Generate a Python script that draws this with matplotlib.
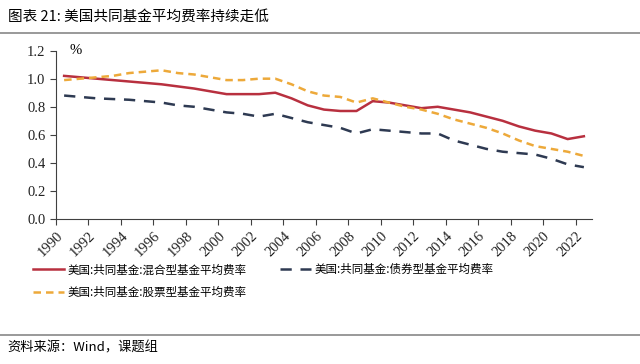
import matplotlib.pyplot as plt
import numpy as np

plt.rcParams['font.family'] = ['Noto Sans CJK SC', 'DejaVu Sans']

years = list(range(1990, 2023))
hunhe = [1.02, 1.01, 1.00, 0.99, 0.98, 0.97, 0.96, 0.945, 0.93, 0.91, 0.89, 0.89, 0.89, 0.90,
         0.86, 0.81, 0.78, 0.77, 0.77, 0.84, 0.83, 0.81, 0.79, 0.80, 0.78, 0.76, 0.73, 0.70,
         0.66, 0.63, 0.61, 0.57, 0.59]
zhaiquan = [0.88, 0.87, 0.86, 0.855, 0.85, 0.84, 0.83, 0.81, 0.80, 0.78, 0.76, 0.75, 0.73, 0.75,
            0.72, 0.69, 0.67, 0.65, 0.61, 0.64, 0.63, 0.62, 0.61, 0.61, 0.56, 0.53, 0.50, 0.48,
            0.47, 0.46, 0.43, 0.39, 0.37]
gupiao = [0.99, 1.00, 1.01, 1.02, 1.04, 1.05, 1.06, 1.04, 1.03, 1.01, 0.99, 0.99, 1.00, 1.00,
          0.96, 0.91, 0.88, 0.87, 0.83, 0.86, 0.83, 0.80, 0.78, 0.75, 0.71, 0.68, 0.65, 0.61,
          0.56, 0.52, 0.50, 0.48, 0.45]
labels = ['美国:共同基金:混合型基金平均费率', '美国:共同基金:债券型基金平均费率',
          '美国:共同基金:股票型基金平均费率']

fig = plt.figure(figsize=(6.4, 3.64), dpi=100)
ax = fig.add_axes([0.0875, 0.398, 0.8375, 0.463])

l1, = ax.plot(years, hunhe, color='#B8303F', lw=1.8, label=labels[0])
l2, = ax.plot(years, zhaiquan, color='#2E3A52', lw=1.8, ls=(0, (4.5, 3.5)), label=labels[1])
l3, = ax.plot(years, gupiao, color='#EDA93A', lw=1.8, ls=(0, (3, 2)), label=labels[2])

ax.set_xlim(1989.5, 2022.5)
ax.set_ylim(0, 1.2)
tick_years = years[::2]
ax.set_xticks([y - 0.5 for y in tick_years])
ax.set_xticklabels([str(y) for y in tick_years], rotation=45, ha='right', va='top',
                   rotation_mode='anchor', family='Liberation Serif', fontsize=10.5)
ax.set_yticks(np.arange(0, 1.21, 0.2))
ax.set_yticklabels(['%.1f' % v for v in np.arange(0, 1.21, 0.2)], family='Liberation Serif', fontsize=10.5)
for s in ['top', 'right']:
    ax.spines[s].set_visible(False)
for s in ['left', 'bottom']:
    ax.spines[s].set_color('#404040')
ax.tick_params(direction='out', length=4, color='#404040', labelcolor='#222222')
ax.text(0.025, 1.0, '%', transform=ax.transAxes, fontsize=10.5, va='center', family='Liberation Serif')

# legend order so that row 1 = mixed, bond; row 2 = equity
fig.legend(handles=[l1, l3, l2], loc='upper left', bbox_to_anchor=(0.035, 0.305), ncol=2,
           frameon=False, fontsize=8.3, handlelength=2.7, handletextpad=0.3, columnspacing=2.9,
           labelspacing=0.85)

fig.text(0.012, 0.955, '图表 21: 美国共同基金平均费率持续走低', fontsize=10.5, va='center')
fig.add_artist(plt.Line2D([0, 1], [0.908, 0.908], color='#888888', lw=1.2))
fig.add_artist(plt.Line2D([0, 1], [0.08, 0.08], color='#888888', lw=1.2))
fig.text(0.012, 0.043, '资料来源：Wind，课题组', fontsize=9.5, va='center')

fig.savefig('out.png', dpi=100)
